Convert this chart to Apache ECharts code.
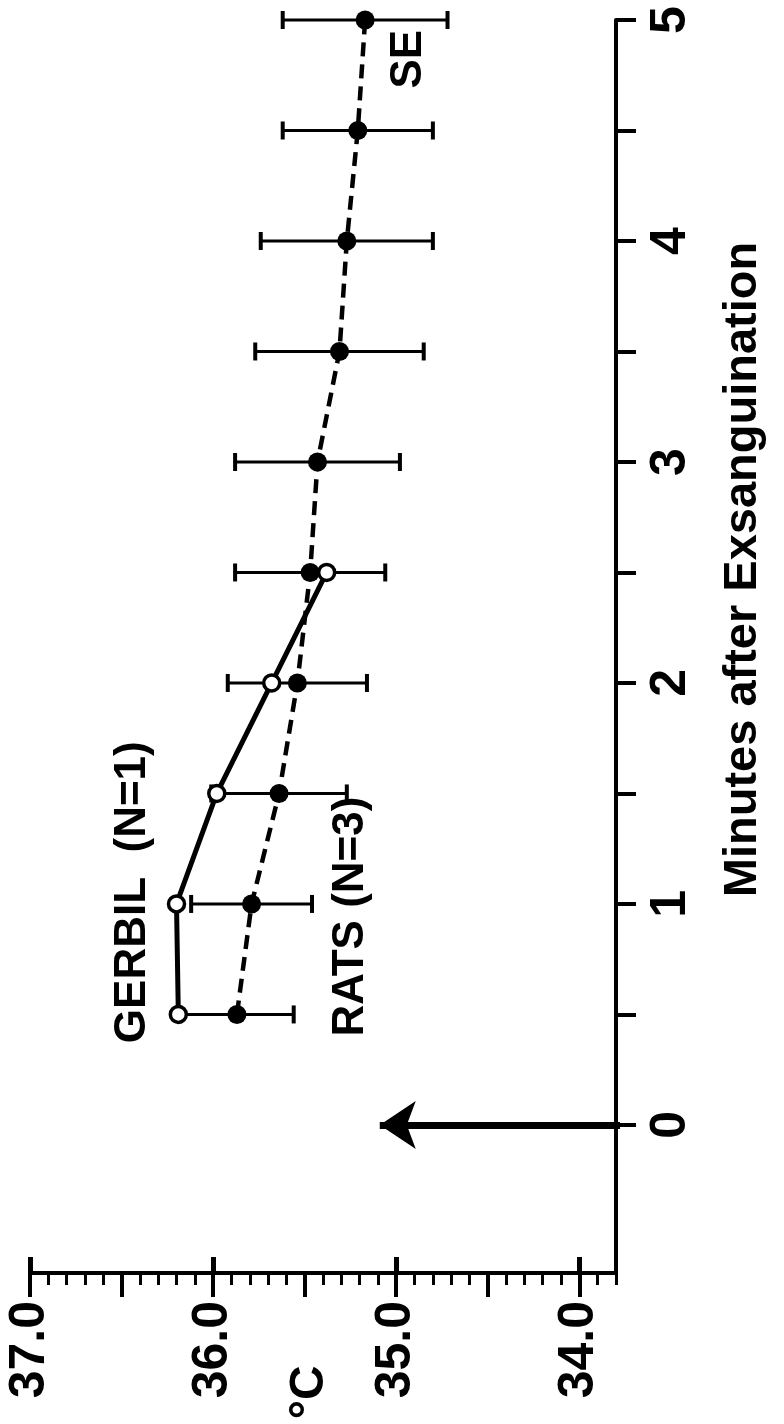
<!DOCTYPE html>
<html>
<head>
<meta charset="utf-8">
<script src="https://cdn.jsdelivr.net/npm/echarts@6/dist/echarts.min.js"></script>
<style>
    html, body { margin: 0; padding: 0; background: #fff; }
    #chart { width: 784px; height: 1424px; }
</style>
</head>
<body>
<div id="chart"></div>
<script>
// minutes after exsanguination
const minutes = [0.5, 1, 1.5, 2, 2.5, 3, 3.5, 4, 4.5, 5];
// rats (N=3), mean body temperature in °C and its SE
const ratTemps = [35.87, 35.79, 35.64, 35.54, 35.47, 35.43, 35.31, 35.27, 35.21, 35.17];
const ratSE = [0.31, 0.33, 0.37, 0.38, 0.41, 0.45, 0.46, 0.47, 0.41, 0.45];
// gerbil (N=1)
const gerbilMinutes = [0.5, 1, 1.5, 2, 2.5];
const gerbilTemps = [36.19, 36.20, 35.98, 35.68, 35.38];
// tick labels
const tempLabels = [34, 35, 36, 37];
const tempHalfTicks = [34, 34.5, 35, 35.5, 36, 36.5, 37];
const minuteLabels = [0, 1, 2, 3, 4, 5];
const minuteTicks = [0, 0.5, 1, 1.5, 2, 2.5, 3, 3.5, 4, 4.5, 5];
// exsanguination arrow at minute 0 (temperature span)
const arrowSpan = [33.7, 35.09];
// text notes: [temperature, minute, text]
const notes = [
    [36.44, 0.37, 'GERBIL  (N=1)'],
    [35.25, 0.40, 'RATS (N=3)'],
    [34.93, 4.69, 'SE']
];
// temperature unit, written under the temperature axis
const unitNote = [35.47, -1.21, '°C'];

const FONT = "'Liberation Sans', Arial, sans-serif";
const chart = echarts.init(document.getElementById('chart'));

const tempAxisBase = {
    type: 'value',
    inverse: true,
    min: 33.8,
    max: 37,
    position: 'bottom',
    splitLine: { show: false }
};

const option = {
    backgroundColor: '#fff',
    animation: false,
    grid: { left: 30, right: 168, top: 20, bottom: 151, outerBoundsMode: 'none', containLabel: false },
    xAxis: [
        {
            ...tempAxisBase,
            interval: 0.1,
            axisLine: { show: true, onZero: false, lineStyle: { color: '#000', width: 4 } },
            axisTick: { show: true, length: 12, lineStyle: { color: '#000', width: 3 } },
            axisLabel: {
                customValues: tempLabels,
                rotate: 90,
                margin: 28,
                formatter: v => v.toFixed(1),
                fontFamily: FONT, fontSize: 50, fontWeight: 'bold', color: '#000'
            }
        },
        {
            ...tempAxisBase,
            axisLine: { show: false, onZero: false },
            axisTick: { show: true, customValues: tempHalfTicks, length: 24, lineStyle: { color: '#000', width: 4 } },
            axisLabel: { show: false }
        },
        {
            ...tempAxisBase,
            axisLine: { show: false, onZero: false },
            axisTick: { show: true, inside: true, customValues: tempLabels, length: 16, lineStyle: { color: '#000', width: 5 } },
            axisLabel: { show: false }
        }
    ],
    yAxis: {
        type: 'value',
        position: 'right',
        min: -0.67,
        max: 5,
        splitLine: { show: false },
        name: 'Minutes after Exsanguination',
        nameLocation: 'middle',
        nameRotate: 90,
        nameGap: 104,
        nameMoveOverlap: false,
        nameTextStyle: { fontFamily: FONT, fontSize: 47, fontWeight: 'bold', color: '#000', padding: [0, 0, 0, 154] },
        axisLine: { show: true, onZero: false, lineStyle: { color: '#000', width: 4 } },
        axisTick: { show: true, customValues: minuteTicks, length: 20, lineStyle: { color: '#000', width: 4 } },
        axisLabel: {
            customValues: minuteLabels,
            rotate: 90,
            margin: 30,
            fontFamily: FONT, fontSize: 50, fontWeight: 'bold', color: '#000'
        }
    },
    series: [
        {
            name: 'SE',
            type: 'custom',
            z: 2,
            data: minutes.map((t, i) => [ratTemps[i] - ratSE[i], ratTemps[i] + ratSE[i], t]),
            renderItem: (params, api) => {
                const a = api.coord([api.value(0), api.value(2)]);
                const b = api.coord([api.value(1), api.value(2)]);
                const cap = 9;
                const style = { stroke: '#000', lineWidth: 3 };
                return {
                    type: 'group',
                    children: [
                        { type: 'line', shape: { x1: a[0], y1: a[1], x2: b[0], y2: b[1] }, style },
                        { type: 'line', shape: { x1: a[0], y1: a[1] - cap, x2: a[0], y2: a[1] + cap }, style: { stroke: '#000', lineWidth: 4 } },
                        { type: 'line', shape: { x1: b[0], y1: b[1] - cap, x2: b[0], y2: b[1] + cap }, style: { stroke: '#000', lineWidth: 4 } }
                    ]
                };
            }
        },
        {
            name: 'RATS',
            type: 'line',
            z: 3,
            data: minutes.map((t, i) => [ratTemps[i], t]),
            symbol: 'circle',
            symbolSize: 19,
            itemStyle: { color: '#000' },
            lineStyle: { color: '#000', width: 4.5, type: [14, 8] }
        },
        {
            name: 'GERBIL',
            type: 'line',
            z: 4,
            data: gerbilMinutes.map((t, i) => [gerbilTemps[i], t]),
            symbol: 'circle',
            symbolSize: 16,
            itemStyle: { color: '#fff', borderColor: '#000', borderWidth: 3.5 },
            lineStyle: { color: '#000', width: 5 }
        },
        {
            name: 'arrow',
            type: 'lines',
            coordinateSystem: 'cartesian2d',
            z: 5,
            symbol: ['none', 'arrow'],
            symbolSize: [26, 36],
            lineStyle: { color: '#000', width: 7, opacity: 1 },
            data: [{ coords: [[arrowSpan[0], 0], [arrowSpan[1], 0]] }]
        },
        {
            name: 'notes',
            type: 'scatter',
            z: 6,
            clip: false,
            symbol: 'circle',
            symbolSize: 1,
            itemStyle: { color: 'rgba(0,0,0,0)', opacity: 1 },
            label: {
                show: true,
                position: 'inside',
                rotate: 90,
                align: 'left',
                verticalAlign: 'middle',
                textBorderWidth: 0,
                formatter: p => p.data.value[2],
                fontFamily: FONT, fontSize: 44, fontWeight: 'bold', color: '#000'
            },
            data: notes.map(n => ({ value: n })).concat([
                { value: unitNote, label: { align: 'center', fontSize: 48 } }
            ])
        }
    ]
};

chart.setOption(option);
</script>
</body>
</html>
